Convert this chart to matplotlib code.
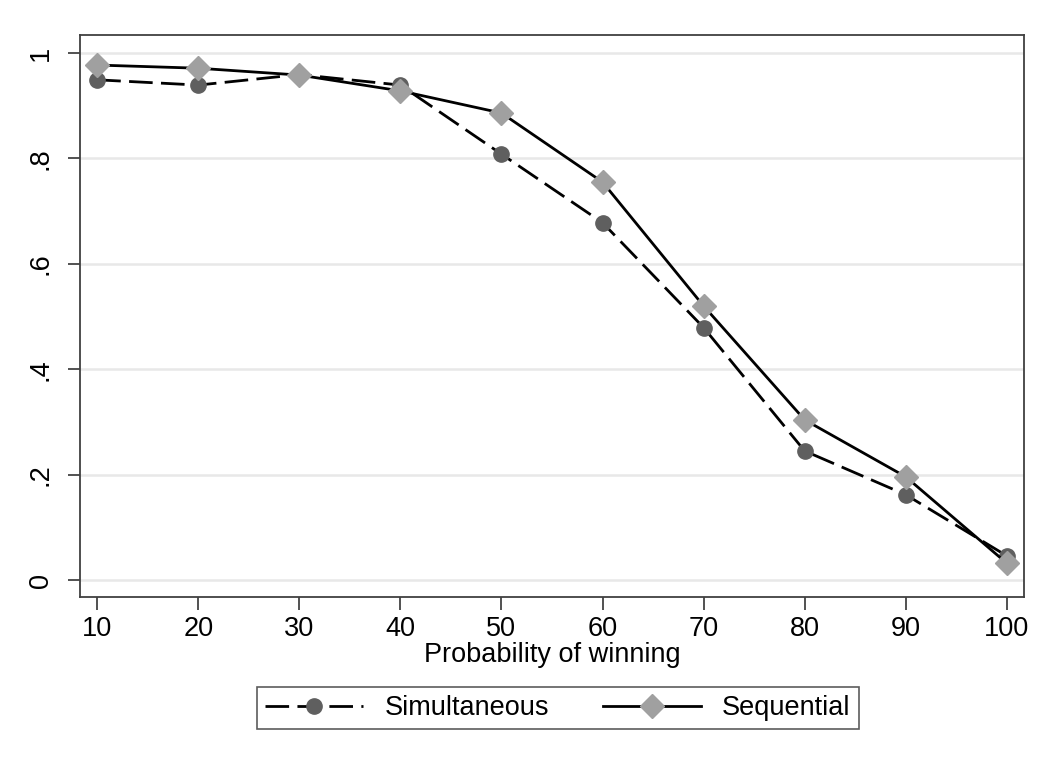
import matplotlib
matplotlib.use('Agg')
import matplotlib.pyplot as plt
from matplotlib.lines import Line2D

plt.rcParams['font.family'] = ['Liberation Sans', 'DejaVu Sans']

# data
prob = [10, 20, 30, 40, 50, 60, 70, 80, 90, 100]
simultaneous = [0.949, 0.939, 0.959, 0.939, 0.808, 0.678, 0.479, 0.245, 0.162, 0.046]
sequential = [0.977, 0.971, 0.958, 0.928, 0.886, 0.755, 0.520, 0.304, 0.196, 0.032]
yticks = [0, 0.2, 0.4, 0.6, 0.8, 1]
yticklabels = ['0', '.2', '.4', '.6', '.8', '1']

fig = plt.figure(figsize=(10.58, 7.69), dpi=100)
ax = fig.add_axes([80/1058, 1 - 597/769, (1024-80)/1058, (597-35)/769])

ax.set_xlim(8.3, 101.7)
ax.set_ylim(-0.032, 1.034)

for y in yticks:
    ax.axhline(y, color='#e8e8e8', lw=1.8, zorder=0)

ax.plot(prob, simultaneous, color='black', lw=2, dashes=(8.5, 3),
        marker='o', markersize=11, markerfacecolor='#5f5f5f',
        markeredgecolor='#5f5f5f', zorder=3)
ax.plot(prob, sequential, color='black', lw=2,
        marker='D', markersize=12, markerfacecolor='#a0a0a0',
        markeredgecolor='#a0a0a0', zorder=4)

ax.set_xticks(prob)
ax.set_xticklabels([str(p) for p in prob])
ax.set_yticks(yticks)
ax.set_yticklabels(yticklabels, rotation=90, va='center')
ax.tick_params(axis='both', labelsize=19.5, length=9, width=1.2, color='#333333')
ax.tick_params(axis='x', pad=5)
ax.tick_params(axis='y', pad=10)
for s in ax.spines.values():
    s.set_color('#404040')
    s.set_linewidth(1.3)

fig.text(552/1058, 1 - 655/769, 'Probability of winning', ha='center', va='center', fontsize=19.5)

handles = [
    Line2D([], [], color='black', lw=2, dashes=(8.5, 3), marker='o', markersize=11,
           markerfacecolor='#5f5f5f', markeredgecolor='#5f5f5f'),
    Line2D([], [], color='black', lw=2, marker='D', markersize=12,
           markerfacecolor='#a0a0a0', markeredgecolor='#a0a0a0'),
]
leg = fig.legend(handles, ['Simultaneous', 'Sequential'], loc='center',
                 bbox_to_anchor=(558/1058, 1 - 708/769), ncol=2, fontsize=19.5,
                 frameon=True, fancybox=False, handlelength=3.6, columnspacing=2.0,
                 borderpad=0.3, handletextpad=0.8)
leg.get_frame().set_edgecolor('#333333')
leg.get_frame().set_linewidth(1.2)

fig.savefig('out.png', dpi=100)
